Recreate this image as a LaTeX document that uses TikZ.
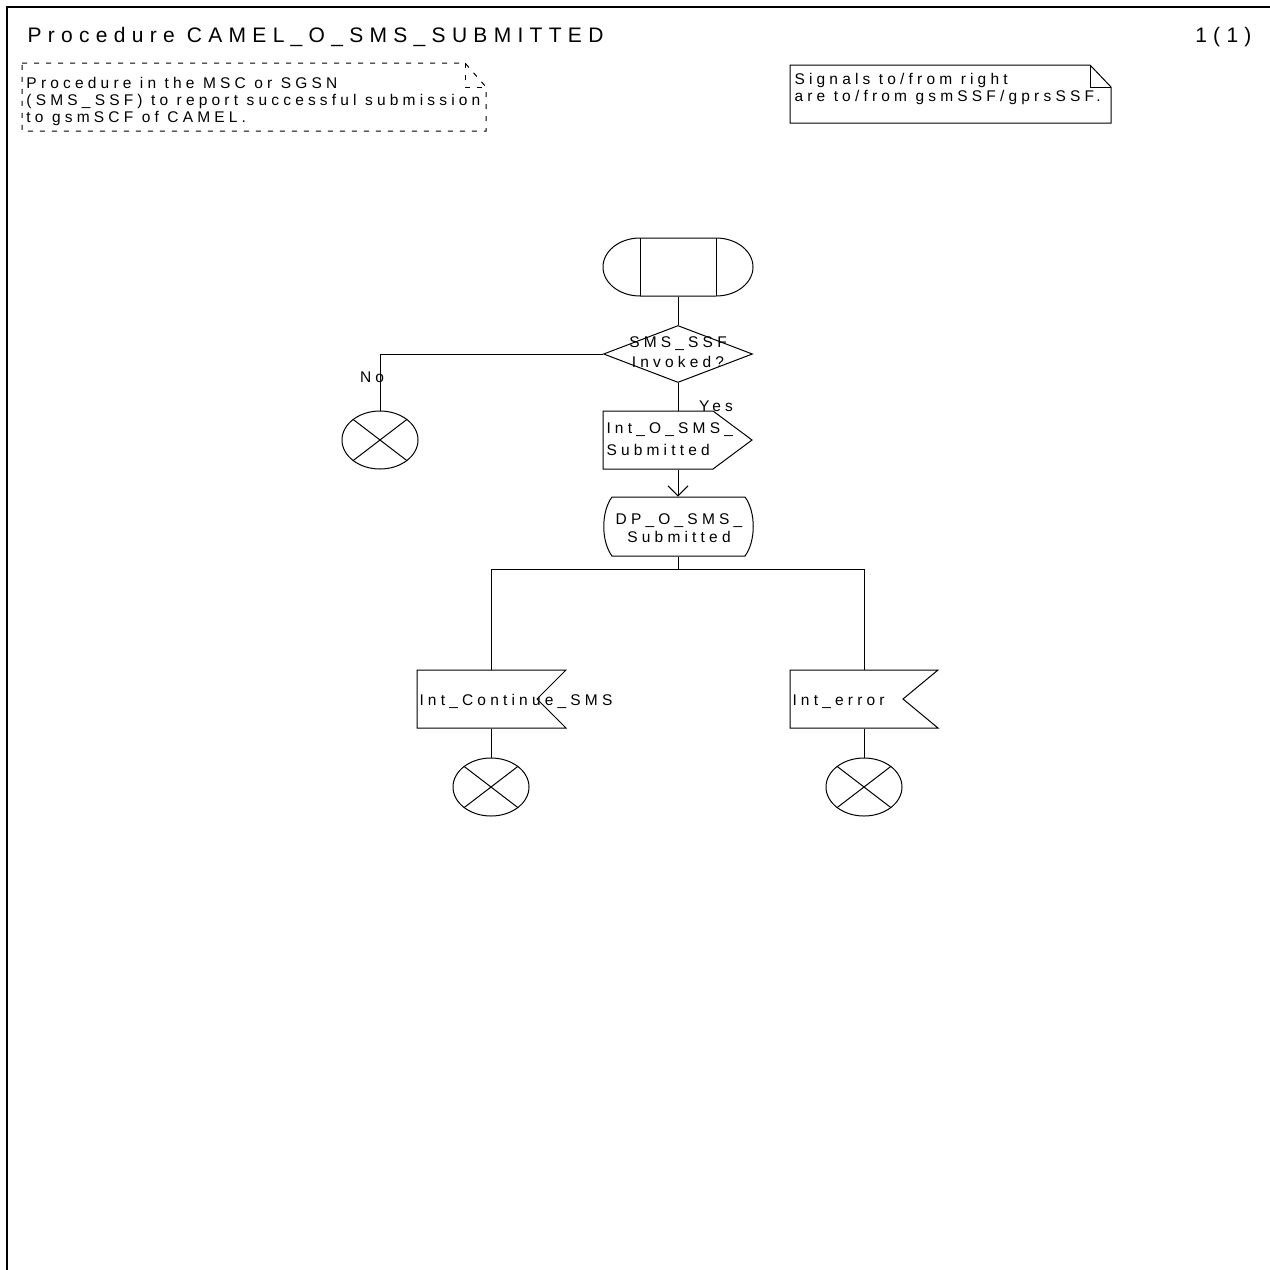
\documentclass[tikz,border=0pt]{standalone}
\usepackage{fontspec}
\setmainfont{Liberation Sans}
\newfontfamily\sdlfont[LetterSpace=27]{Liberation Sans}
\newfontfamily\ttlfont[LetterSpace=30]{Liberation Sans}
\usetikzlibrary{shapes.geometric,arrows.meta,calc}
\begin{document}
\begin{tikzpicture}[x=1pt,y=1pt,line width=1pt,
  txt/.style={inner sep=0pt,font=\sdlfont\fontsize{15.5}{20}\selectfont},
  ttl/.style={inner sep=0pt,font=\ttlfont\fontsize{21}{24}\selectfont},
  holder/.style={inner sep=0pt,draw=none,minimum width=#1,minimum height=58},
  stopsym/.style={ellipse,draw,inner sep=0pt,minimum width=76,minimum height=58},
  flow/.style={line width=1pt},
  arr/.style={-{Straight Barb[length=10pt,width=20pt]}}]
\useasboundingbox (0,0) rectangle (1270,-1270);
% frame
\draw[line width=2pt] (7,-1270) -- (7,-7) -- (1270,-7);
% header
\node[ttl,anchor=base west] (title) at (27,-42) {Procedure CAMEL\_O\_SMS\_SUBMITTED};
\node[ttl,anchor=base east] (page) at (1252,-42) {1(1)};
% comment box
\draw[dashed,dash pattern=on 5pt off 7pt] (22,-63) -- (465,-63) -- (486,-87) -- (486,-131) -- (22,-131) -- cycle;
\draw[dashed,dash pattern=on 5pt off 7pt] (465,-63) -- (465,-87) -- (486,-87);
\node[txt,anchor=base west] (c1) at (26,-88) {Procedure in the MSC or SGSN};
\node[txt,anchor=base west] (c2) at (26,-105) {(SMS\_SSF) to report successful submission};
\node[txt,anchor=base west] (c3) at (26,-122) {to gsmSCF of CAMEL.};
% note box
\draw (790,-65) -- (1090,-65) -- (1111,-87) -- (1111,-123) -- (790,-123) -- cycle;
\draw (1090,-65) -- (1090,-87) -- (1111,-87);
\node[txt,anchor=base west] (n1) at (794,-84) {Signals to/from right};
\node[txt,anchor=base west] (n2) at (794,-101) {are to/from gsmSSF/gprsSSF.};
% start
\node[holder=150] (start) at (678,-267) {};
\draw (640,-238) -- (716,-238) arc[start angle=90,end angle=-90,x radius=37,y radius=29]
  -- (640,-296) arc[start angle=270,end angle=90,x radius=37,y radius=29] -- cycle;
\draw (640,-238) -- (640,-296) (716,-238) -- (716,-296);
% decision
\node[diamond,draw,inner sep=0pt,minimum width=149,minimum height=57] (dec) at (678,-354) {};
\node[txt,anchor=base] (dect1) at (678,-347) {SMS\_SSF};
\node[txt,anchor=base] (dect2) at (678,-367) {Invoked?};
% no branch
\node[stopsym] (stop1) at (380,-440) {};
\draw (stop1.north west) -- (stop1.south east) (stop1.north east) -- (stop1.south west);
\node[txt,anchor=base] (no) at (372,-382) {No};
\node[txt,anchor=base] (yes) at (716,-411) {Yes};
% output signal
\node[holder=150] (out) at (678,-440) {};
\draw (603,-411) -- (713,-411) -- (752,-440) -- (713,-469) -- (603,-469) -- cycle;
\node[txt,anchor=base west] (outt1) at (606,-433) {Int\_O\_SMS\_};
\node[txt,anchor=base west] (outt2) at (606,-455) {Submitted};
% DP box
\node[holder=150,minimum height=59] (dp) at (678,-526.5) {};
\draw (612,-497) -- (745,-497) .. controls (756,-512) and (756,-541) .. (745,-556)
  -- (612,-556) .. controls (601,-541) and (601,-512) .. (612,-497) -- cycle;
\node[txt,anchor=base] (dpt1) at (679,-524) {DP\_O\_SMS\_};
\node[txt,anchor=base] (dpt2) at (679,-542) {Submitted};
% input signals
\node[holder=150] (in1) at (491,-699) {};
\draw (417,-670) -- (566,-670) -- (537,-699) -- (566,-728) -- (417,-728) -- cycle;
\node[txt,anchor=base west] (in1t) at (419,-705) {Int\_Continue\_SMS};
\node[holder=148] (in2) at (864,-699) {};
\draw (790,-670) -- (938,-670) -- (903,-699) -- (938,-728) -- (790,-728) -- cycle;
\node[txt,anchor=base west] (in2t) at (792,-705) {Int\_error};
\node[stopsym] (stop2) at (491,-787) {};
\draw (stop2.north west) -- (stop2.south east) (stop2.north east) -- (stop2.south west);
\node[stopsym] (stop3) at (864,-787) {};
\draw (stop3.north west) -- (stop3.south east) (stop3.north east) -- (stop3.south west);
% connectors
\coordinate (br) at (678,-569);
\draw[flow] (start) -- (dec);
\draw[flow] (dec.west) -| (stop1.north);
\draw[flow] (dec) -- (out);
\draw[flow,arr] (out) -- (dp);
\draw[flow] (dp) -- (br);
\draw[flow] (br) -| (in1.north);
\draw[flow] (br) -| (in2.north);
\draw[flow] (in1) -- (stop2);
\draw[flow] (in2) -- (stop3);
\end{tikzpicture}
\end{document}
